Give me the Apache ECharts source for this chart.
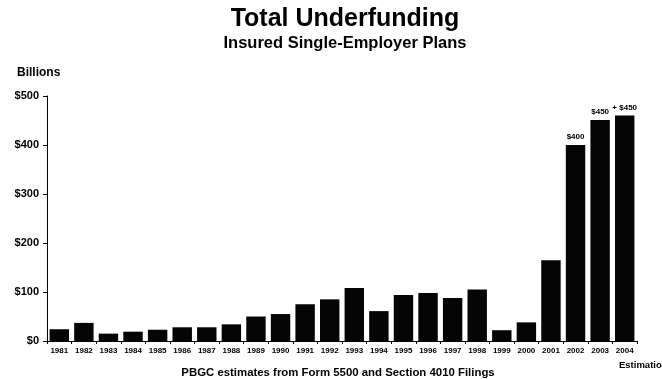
<!DOCTYPE html>
<html>
<head>
<meta charset="utf-8">
<script src="https://cdn.jsdelivr.net/npm/echarts@6/dist/echarts.min.js"></script>
<style>
  html, body { margin: 0; padding: 0; background: #fff; }
  #chart { width: 662px; height: 379px; }
</style>
</head>
<body>
<div id="chart"></div>
<script>
// years on the x axis
const years = ["1981", "1982", "1983", "1984", "1985", "1986", "1987", "1988",
  "1989", "1990", "1991", "1992", "1993", "1994", "1995", "1996", "1997",
  "1998", "1999", "2000", "2001", "2002", "2003", "2004"];
// underfunding, billions of dollars
const underfunding = [24, 37, 15, 19, 23, 28, 28, 34, 50, 55, 75, 85, 108, 61,
  94, 98, 88, 105, 22, 38, 165, 400, 451, 460];
// text printed above the last bars
const barLabels = ["", "", "", "", "", "", "", "", "", "", "", "", "", "", "",
  "", "", "", "", "", "", "$400", "$450", "+ $450"];
const yTicks = [0, 100, 200, 300, 400, 500];

const font = "'Liberation Sans', Arial, sans-serif";
const myChart = echarts.init(document.getElementById("chart"));

function titleText(text, left, top, size, align) {
  return {
    text: text,
    left: left,
    top: top,
    padding: 0,
    textAlign: align,
    textStyle: { fontSize: size, fontWeight: "bold", color: "#000", fontFamily: font },
  };
}

const option = {
  animation: false,
  backgroundColor: "#fff",
  textStyle: { fontFamily: font },
  title: [
    titleText("Total Underfunding", 345, 7, 25, "center"),
    titleText("Insured Single-Employer Plans", 345, 35, 16.5, "center"),
    titleText("Billions", 17, 67, 12, "left"),
    titleText("PBGC estimates from Form 5500 and Section 4010 Filings", 338, 367, 11.4, "center"),
    // runs off the right edge, as in the original
    titleText("Estimation", 619, 360, 9.5, "left"),
  ],
  grid: {
    left: 47,
    right: 25,
    top: 96,
    bottom: 38,
    containLabel: false,
  },
  xAxis: {
    type: "category",
    data: years,
    axisLine: { lineStyle: { color: "#000", width: 1 } },
    axisTick: { show: true, length: 3, lineStyle: { color: "#000" } },
    axisLabel: {
      color: "#000",
      fontSize: 8,
      fontWeight: "bold",
      margin: 6,
      interval: 0,
      fontFamily: font,
    },
  },
  yAxis: {
    type: "value",
    min: 0,
    max: 500,
    interval: 100,
    axisLine: { show: true, lineStyle: { color: "#000", width: 1 } },
    axisTick: { show: true, length: 4, lineStyle: { color: "#000" } },
    splitLine: { show: false },
    axisLabel: {
      color: "#000",
      fontSize: 11,
      fontWeight: "bold",
      margin: 8,
      fontFamily: font,
      formatter: function (value) {
        return yTicks.indexOf(value) >= 0 ? "$" + value : "";
      },
    },
  },
  series: [
    {
      type: "bar",
      data: underfunding,
      barCategoryGap: "21%",
      itemStyle: { color: "#050505" },
      label: {
        show: true,
        position: "top",
        distance: 4,
        color: "#000",
        fontSize: 8,
        fontWeight: "bold",
        fontFamily: font,
        formatter: function (p) {
          return barLabels[p.dataIndex];
        },
      },
    },
  ],
};

myChart.setOption(option);
</script>
</body>
</html>
